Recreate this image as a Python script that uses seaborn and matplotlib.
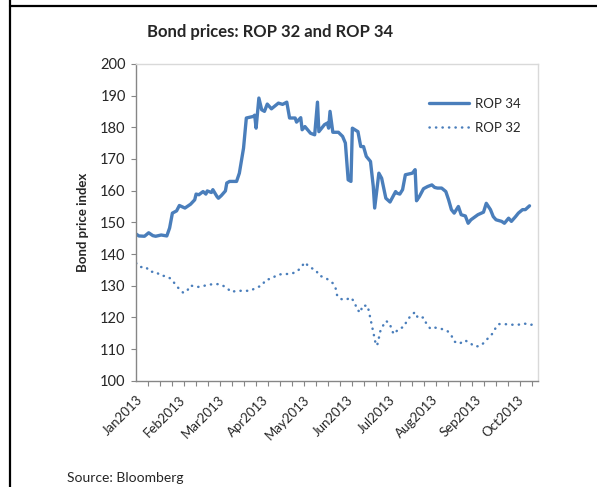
import pandas as pd
import matplotlib.pyplot as plt
from matplotlib.lines import Line2D
import seaborn as sns

# ROP 34 (daily)
rop34_dates = [
    "2013-01-01", "2013-01-03", "2013-01-07", "2013-01-10", "2013-01-13", "2013-01-15",
    "2013-01-19", "2013-01-23", "2013-01-25", "2013-01-27", "2013-01-30", "2013-02-01",
    "2013-02-05", "2013-02-09", "2013-02-12", "2013-02-13", "2013-02-15", "2013-02-18",
    "2013-02-20", "2013-02-21", "2013-02-24", "2013-02-25", "2013-02-28", "2013-03-01",
    "2013-03-03", "2013-03-06", "2013-03-07", "2013-03-09", "2013-03-14", "2013-03-16",
    "2013-03-19", "2013-03-21", "2013-03-26", "2013-03-27", "2013-03-28", "2013-03-30",
    "2013-04-01", "2013-04-03", "2013-04-05", "2013-04-08", "2013-04-13", "2013-04-16",
    "2013-04-19", "2013-04-21", "2013-04-25", "2013-04-26", "2013-04-29", "2013-04-30",
    "2013-05-02", "2013-05-06", "2013-05-09", "2013-05-11", "2013-05-12", "2013-05-16",
    "2013-05-18", "2013-05-19", "2013-05-20", "2013-05-22", "2013-05-26", "2013-05-29",
    "2013-05-31", "2013-06-02", "2013-06-04", "2013-06-05", "2013-06-09", "2013-06-11",
    "2013-06-13", "2013-06-15", "2013-06-18", "2013-06-20", "2013-06-21", "2013-06-24",
    "2013-06-26", "2013-06-29", "2013-07-02", "2013-07-06", "2013-07-07", "2013-07-09",
    "2013-07-11", "2013-07-13", "2013-07-18", "2013-07-20", "2013-07-21", "2013-07-23",
    "2013-07-26", "2013-07-29", "2013-08-01", "2013-08-03", "2013-08-05", "2013-08-08",
    "2013-08-11", "2013-08-13", "2013-08-15", "2013-08-17", "2013-08-20", "2013-08-22",
    "2013-08-25", "2013-08-27", "2013-08-29", "2013-09-03", "2013-09-07", "2013-09-09",
    "2013-09-12", "2013-09-14", "2013-09-16", "2013-09-20", "2013-09-22", "2013-09-25",
    "2013-09-27", "2013-09-30", "2013-10-02", "2013-10-05", "2013-10-07", "2013-10-10",
]
rop34_values = [
    146.3, 145.7, 145.6, 146.7, 145.8, 145.6,
    146.0, 145.7, 148.2, 152.9, 153.6, 155.3,
    154.5, 155.7, 157.1, 158.9, 158.7, 159.7,
    158.9, 159.9, 159.4, 160.3, 158.1, 157.6,
    158.4, 159.9, 162.4, 162.9, 162.9, 165.5,
    173.4, 182.9, 183.4, 183.8, 179.7, 189.2,
    185.5, 185.0, 187.3, 185.8, 187.6, 187.2,
    187.9, 182.9, 182.9, 181.6, 183.0, 179.2,
    180.2, 178.1, 177.6, 187.9, 178.6, 180.8,
    181.3, 179.7, 185.0, 178.4, 178.4, 177.1,
    175.0, 163.4, 162.9, 179.7, 178.6, 173.9,
    173.9, 170.8, 169.2, 161.3, 154.5, 165.5,
    163.9, 157.6, 156.4, 159.7, 159.2, 158.9,
    160.3, 165.0, 165.5, 166.6, 156.8, 158.1,
    160.6, 161.3, 161.8, 161.0, 160.8, 160.8,
    159.7, 157.1, 154.0, 152.9, 155.0, 152.4,
    152.0, 149.7, 150.8, 152.4, 153.2, 156.0,
    154.0, 151.8, 150.8, 150.3, 149.7, 151.3,
    150.3, 151.8, 152.9, 154.0, 154.0, 155.2,
]

# ROP 32
rop32_dates = [
    "2013-01-01", "2013-01-04", "2013-01-08", "2013-01-11", "2013-01-15", "2013-01-19",
    "2013-01-22", "2013-01-26", "2013-01-29", "2013-02-01", "2013-02-04", "2013-02-07",
    "2013-02-09", "2013-02-13", "2013-02-17", "2013-02-21", "2013-02-26", "2013-03-02",
    "2013-03-07", "2013-03-10", "2013-03-14", "2013-03-19", "2013-03-24", "2013-03-28",
    "2013-04-01", "2013-04-04", "2013-04-08", "2013-04-12", "2013-04-16", "2013-04-21",
    "2013-04-26", "2013-04-29", "2013-05-02", "2013-05-05", "2013-05-10", "2013-05-12",
    "2013-05-15", "2013-05-18", "2013-05-22", "2013-05-24", "2013-05-25", "2013-05-27",
    "2013-05-31", "2013-06-04", "2013-06-07", "2013-06-08", "2013-06-11", "2013-06-12",
    "2013-06-16", "2013-06-17", "2013-06-18", "2013-06-19", "2013-06-20", "2013-06-21",
    "2013-06-22", "2013-06-23", "2013-06-24", "2013-06-25", "2013-06-27", "2013-06-29",
    "2013-07-02", "2013-07-03", "2013-07-05", "2013-07-08", "2013-07-12", "2013-07-14",
    "2013-07-17", "2013-07-20", "2013-07-22", "2013-07-26", "2013-07-28", "2013-07-31",
    "2013-08-03", "2013-08-07", "2013-08-12", "2013-08-15", "2013-08-17", "2013-08-21",
    "2013-08-24", "2013-08-28", "2013-08-31", "2013-09-04", "2013-09-08", "2013-09-11",
    "2013-09-14", "2013-09-16", "2013-09-18", "2013-09-22", "2013-09-27", "2013-10-02",
    "2013-10-06", "2013-10-11", "2013-10-15",
]
rop32_values = [
    137.1, 135.9, 135.9, 134.4, 134.4, 133.1,
    133.1, 132.2, 130.5, 128.9, 127.7, 128.7,
    130.1, 129.6, 129.7, 130.3, 130.5, 130.5,
    129.4, 128.0, 128.4, 128.4, 128.4, 129.4,
    130.0, 131.9, 132.2, 133.4, 133.7, 133.7,
    134.3, 135.7, 137.4, 135.9, 134.9, 133.2,
    132.8, 132.1, 130.8, 129.2, 127.1, 125.9,
    125.5, 126.3, 124.5, 122.6, 121.5, 123.7,
    123.7, 121.5, 119.6, 117.4, 115.4, 113.2,
    111.1, 111.6, 113.5, 115.6, 117.4, 118.9,
    118.1, 116.0, 114.7, 116.4, 117.0, 118.9,
    120.6, 121.7, 119.8, 120.0, 118.1, 116.4,
    116.8, 116.5, 115.8, 114.3, 112.4, 111.7,
    112.8, 112.2, 110.9, 110.9, 112.2, 113.9,
    115.1, 117.0, 117.9, 117.9, 117.7, 117.7,
    118.1, 117.6, 118.6,
]

month_labels = ["Jan2013", "Feb2013", "Mar2013", "Apr2013", "May2013",
                "Jun2013", "Jul2013", "Aug2013", "Sep2013", "Oct2013"]

df34 = pd.DataFrame({"date": pd.to_datetime(rop34_dates), "value": rop34_values})
df32 = pd.DataFrame({"date": pd.to_datetime(rop32_dates), "value": rop32_values})

sns.set_style("white")
plt.rcParams["font.family"] = ["Lato", "DejaVu Sans"]

blue = "#4a7ebb"
fig = plt.figure(figsize=(5.97, 4.87), dpi=100)
ax = fig.add_axes([0.228, 0.218, 0.673, 0.651])

sns.lineplot(data=df34, x="date", y="value", ax=ax, color=blue, lw=2.4,
             label="ROP 34", solid_joinstyle="round")
sns.lineplot(data=df32, x="date", y="value", ax=ax, color=blue, lw=1.8,
             label="ROP 32", linestyle=(0, (0.1, 2.5)), dash_capstyle="round")

ax.set_xlim(pd.Timestamp("2013-01-01"), pd.Timestamp("2013-10-16"))
ax.set_ylim(100, 200)
ax.set_yticks(range(100, 201, 10))

# month labels, small ticks spread evenly
months = pd.date_range("2013-01-01", periods=len(month_labels), freq="MS")
ax.set_xticks(months)
ax.set_xticklabels(month_labels, rotation=45, ha="right", rotation_mode="anchor",
                   fontsize=9.5)
ax.set_xticks(pd.date_range("2013-01-01", "2013-10-12", periods=34), minor=True)
ax.tick_params(axis="x", which="major", length=0, pad=9)
ax.tick_params(axis="x", which="minor", length=3.5, width=0.8, color="#868686",
               direction="out", bottom=True)
ax.tick_params(axis="y", length=3.5, width=0.8, color="#868686", direction="out",
               left=True, labelsize=10.5, pad=4)

for s in ["left", "bottom"]:
    ax.spines[s].set_color("#868686")
    ax.spines[s].set_linewidth(1.0)
for s in ["top", "right"]:
    ax.spines[s].set_color("#d9d9d9")
    ax.spines[s].set_linewidth(1.0)

ax.set_xlabel("")
ax.set_ylabel("Bond price index", fontsize=9.5, fontweight="bold", labelpad=8)

leg = ax.legend(loc="upper left", bbox_to_anchor=(0.7, 0.93), frameon=False,
                fontsize=9.5, handlelength=3.0, labelspacing=0.9, handletextpad=0.5)

fig.text(0.452, 0.934, "Bond prices: ROP 32 and ROP 34", ha="center", va="center",
         fontsize=12, fontweight="bold")
fig.text(0.112, 0.018, "Source: Bloomberg", ha="left", va="center", fontsize=10)

# table-like border lines
fig.add_artist(Line2D([10 / 597, 1.0], [1 - 6 / 487, 1 - 6 / 487],
                      transform=fig.transFigure, color="black", lw=1.6))
fig.add_artist(Line2D([10 / 597, 10 / 597], [0.0, 1.0],
                      transform=fig.transFigure, color="black", lw=1.6))

fig.savefig("out.png", dpi=100)
